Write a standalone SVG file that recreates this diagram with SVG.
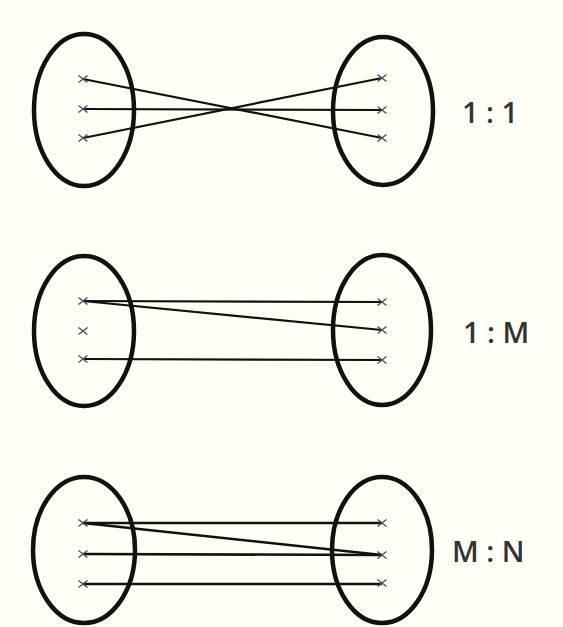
<svg xmlns="http://www.w3.org/2000/svg" width="563" height="627" viewBox="0 0 563 627">
<style>
.set{fill:none;stroke:#111;stroke-width:4.5}
.ln{stroke:#111;stroke-width:2.2;fill:none}
.ln2{stroke:#111;stroke-width:2.6;fill:none}
.mk{stroke:#3d5566;stroke-width:1.4;fill:none}
.lbl{font-family:"Open Sans","Liberation Sans",sans-serif;font-size:29px;font-weight:600;fill:#333}
</style>
<defs>
<path id="x" class="mk" d="M-4.5,-3.5L4.5,3.5M-4.5,3.5L4.5,-3.5"/>
</defs>
<rect width="563" height="627" fill="#fffef7"/>
<g id="connectors">
<line class="ln" x1="83" y1="79" x2="382" y2="138"/>
<line class="ln" x1="83" y1="109" x2="382" y2="110"/>
<line class="ln" x1="83" y1="138" x2="382" y2="78"/>
<line class="ln" x1="83" y1="301" x2="382" y2="302"/>
<line class="ln" x1="83" y1="301" x2="382" y2="330"/>
<line class="ln" x1="83" y1="359" x2="382" y2="360"/>
<line class="ln2" x1="83" y1="523" x2="382" y2="523"/>
<line class="ln2" x1="83" y1="523" x2="382" y2="555"/>
<line class="ln2" x1="83" y1="554" x2="382" y2="555"/>
<line class="ln2" x1="83" y1="584" x2="382" y2="584"/>
</g>
<g id="set-1a"><ellipse class="set" cx="84" cy="110" rx="50" ry="76"/>
<use href="#x" x="83" y="79"/><use href="#x" x="83" y="109"/><use href="#x" x="83" y="138"/></g>
<g id="set-1b"><ellipse class="set" cx="383" cy="111" rx="50" ry="74"/>
<use href="#x" x="382" y="78"/><use href="#x" x="382" y="110"/><use href="#x" x="382" y="138"/></g>
<g id="label-1"><text class="lbl" x="462" y="123">1 : 1</text></g>
<g id="set-2a"><ellipse class="set" cx="84" cy="331" rx="50" ry="75"/>
<use href="#x" x="83" y="301"/><use href="#x" x="83" y="331"/><use href="#x" x="83" y="359"/></g>
<g id="set-2b"><ellipse class="set" cx="382" cy="330" rx="49" ry="75"/>
<use href="#x" x="382" y="302"/><use href="#x" x="382" y="330"/><use href="#x" x="382" y="360"/></g>
<g id="label-2"><text class="lbl" x="463" y="343">1 : M</text></g>
<g id="set-3a"><ellipse class="set" cx="84" cy="550" rx="51" ry="73"/>
<use href="#x" x="83" y="523"/><use href="#x" x="83" y="554"/><use href="#x" x="83" y="584"/></g>
<g id="set-3b"><ellipse class="set" cx="382" cy="550" rx="50" ry="73"/>
<use href="#x" x="382" y="523"/><use href="#x" x="382" y="555"/><use href="#x" x="382" y="583"/></g>
<g id="label-3"><text class="lbl" x="452" y="562">M : N</text></g>
</svg>
